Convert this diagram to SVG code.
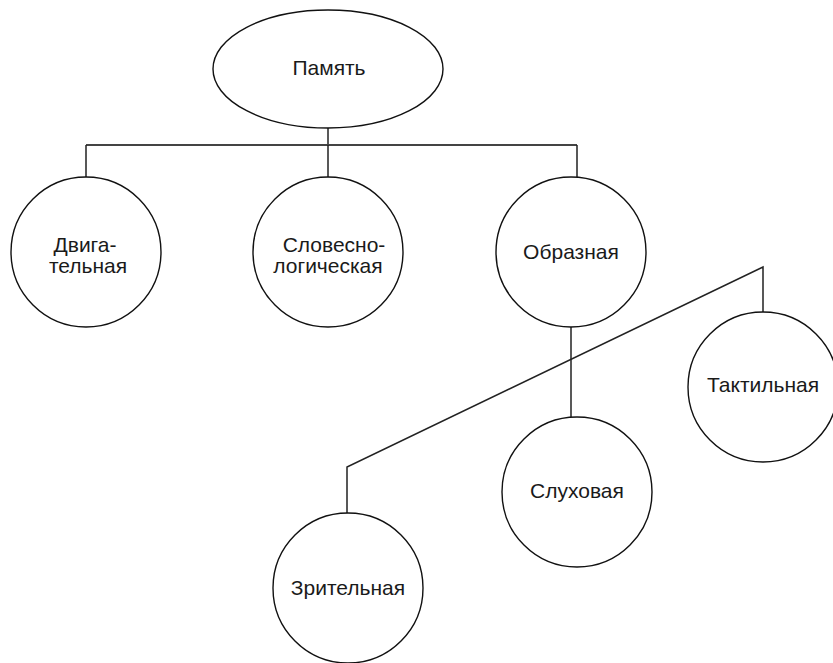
<svg xmlns="http://www.w3.org/2000/svg" width="833" height="663" viewBox="0 0 833 663">
<style>
.n{fill:#fff;stroke:#111;stroke-width:1.4}
.c{fill:none;stroke:#222;stroke-width:1.5}
.h{fill:none;stroke:#444;stroke-width:2}
text{font-family:"Liberation Sans",Arial,sans-serif;font-size:21px;fill:#1a1a1a;text-anchor:middle}
</style>
<rect width="833" height="663" fill="#fff"/>
<g id="connectors">
<path class="c" d="M328 128V145"/>
<path class="h" d="M86 145H577"/>
<path class="c" d="M86 145V177M328 145V177M577 145V177"/>
<path class="c" d="M571 326V417"/>
<path class="c" d="M347 513V467L763 267V313"/>
</g>
<g id="pamyat"><ellipse class="n" cx="328" cy="69" rx="115" ry="59"/><text x="329" y="75">Память</text></g>
<g id="dvigatelnaya"><circle class="n" cx="86" cy="252" r="75"/><text x="85" y="252">Двига-</text><text x="88" y="273">тельная</text></g>
<g id="slovesno"><circle class="n" cx="328" cy="252" r="75"/><text x="334" y="252">Словесно-</text><text x="328" y="273">логическая</text></g>
<g id="obraznaya"><circle class="n" cx="571" cy="252" r="75"/><text x="571" y="259">Образная</text></g>
<g id="taktilnaya"><circle class="n" cx="763" cy="387" r="75"/><text x="763" y="392">Тактильная</text></g>
<g id="sluhovaya"><circle class="n" cx="577" cy="492" r="75"/><text x="577" y="498">Слуховая</text></g>
<g id="zritelnaya"><circle class="n" cx="348" cy="588" r="75"/><text x="348" y="595">Зрительная</text></g>
</svg>
